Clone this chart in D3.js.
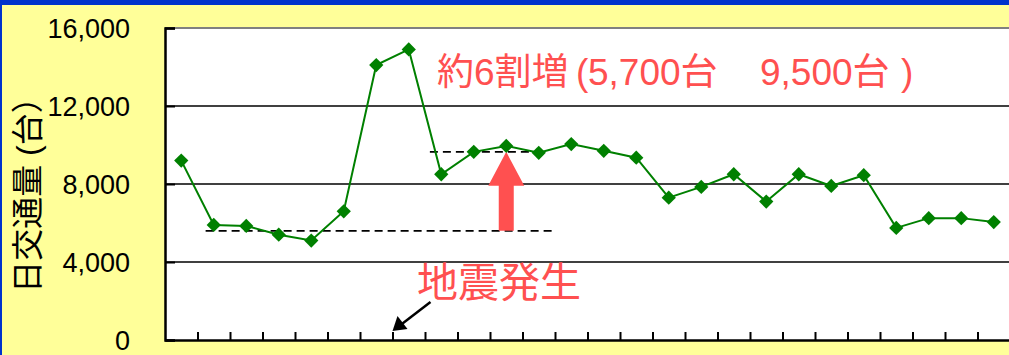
<!DOCTYPE html>
<html>
<head>
<meta charset="utf-8">
<script src="https://cdn.jsdelivr.net/npm/d3@7"></script>
<style>
  html, body { margin: 0; padding: 0; background: #ffff99; overflow: hidden; }
  svg { display: block; font-family: "Liberation Sans", Arial, "Noto Sans CJK JP", sans-serif; }
</style>
</head>
<body>
<div id="chart"></div>
<script>
// daily traffic volume (vehicles/day), one value per period
const traffic = [9200, 5900, 5850, 5400, 5100, 6600, 14100, 14900, 8500, 9650, 9950, 9600, 10050,
  9700, 9350, 7300, 7850, 8500, 7100, 8500, 7900, 8450, 5750, 6250, 6250, 6050];
const yTicks = [0, 4000, 8000, 12000, 16000];
// reference levels before / after (dashed) and the index span they cover
const refLevels = [5600, 9650];
const refSpans = [[1.25, 12.0], [8.15, 11.7]];
const quakeAt = 7;        // boundary index of the earthquake
const increaseAt = 10.5;  // where the red arrow stands
const yTitle = "日交通量 (台）";
const quakeLabel = "地震発生";
const increaseLabel = ["約6割増 ", "(", "5,700台", "9,500台", ")"];

let width = 1009, height = 355;
let margin = { top: 28, right: -1, bottom: 15, left: 165 };

let svg = d3.select("#chart").append("svg")
  .attr("width", width)
  .attr("height", height);

// blue frame at top and left
svg.append("rect").attr("x", 0).attr("y", 0).attr("width", width).attr("height", 5).attr("fill", "#0033cc");
svg.append("rect").attr("x", 0).attr("y", 0).attr("width", 2).attr("height", height).attr("fill", "#0033cc");

let xScale = d3.scaleLinear().domain([0, traffic.length]).range([margin.left, width - margin.right]);
let yScale = d3.scaleLinear().domain([0, 16000]).range([height - margin.bottom, margin.top]);

// plot area
svg.append("rect")
  .attr("x", xScale(0)).attr("y", yScale(16000))
  .attr("width", xScale(traffic.length) - xScale(0))
  .attr("height", yScale(0) - yScale(16000))
  .attr("fill", "#fff");

// top border (grey)
svg.append("line")
  .attr("x1", xScale(0)).attr("x2", xScale(traffic.length))
  .attr("y1", yScale(16000)).attr("y2", yScale(16000))
  .attr("stroke", "#808080").attr("stroke-width", 2);

// gridlines
svg.append("g").selectAll("line")
  .data(yTicks.filter(d => d > 0 && d < 16000))
  .enter().append("line")
  .attr("x1", xScale(0)).attr("x2", xScale(traffic.length))
  .attr("y1", d => yScale(d)).attr("y2", d => yScale(d))
  .attr("stroke", "#000").attr("stroke-width", 1.5);

// y axis
let yAxis = svg.append("g")
  .attr("transform", "translate(" + xScale(0) + ",0)")
  .call(d3.axisRight(yScale).tickValues(yTicks).tickSize(10).tickFormat(""));
yAxis.select(".domain").attr("stroke-width", 2.5);
yAxis.selectAll(".tick line").attr("stroke-width", 2);

svg.append("g").selectAll("text")
  .data(yTicks)
  .enter().append("text")
  .attr("x", 130)
  .attr("y", d => yScale(d))
  .attr("dy", "0.36em")
  .attr("text-anchor", "end")
  .attr("font-size", 27)
  .attr("fill", "#000")
  .text(d3.format(","));

// x axis with ticks pointing up
let xAxis = svg.append("g")
  .attr("transform", "translate(0," + yScale(0) + ")")
  .call(d3.axisBottom(xScale).tickValues(d3.range(1, traffic.length)).tickSize(-8).tickSizeOuter(0).tickFormat(""));
xAxis.select(".domain").attr("stroke-width", 2.5);
xAxis.selectAll(".tick line").attr("stroke-width", 2);

// y title
svg.append("text")
  .attr("transform", "translate(39," + 187 + ") rotate(-90)")
  .attr("text-anchor", "middle")
  .attr("font-size", 32)
  .attr("fill", "#000")
  .text(yTitle);

// dashed reference lines
svg.append("g").selectAll("line")
  .data(refLevels)
  .enter().append("line")
  .attr("x1", (d, i) => xScale(refSpans[i][0]))
  .attr("x2", (d, i) => xScale(refSpans[i][1]))
  .attr("y1", d => yScale(d)).attr("y2", d => yScale(d))
  .attr("stroke", "#000").attr("stroke-width", 1.8)
  .attr("stroke-dasharray", "8,5");

// red up arrow
let ax = xScale(increaseAt), yb = yScale(refLevels[0]), yt = yScale(refLevels[1]);
let headLen = 34, headW = 18, shaftW = 7.5;
svg.append("path")
  .attr("d", "M" + (ax - shaftW) + "," + yb +
    "L" + (ax - shaftW) + "," + (yt + headLen) +
    "L" + (ax - headW) + "," + (yt + headLen) +
    "L" + ax + "," + yt +
    "L" + (ax + headW) + "," + (yt + headLen) +
    "L" + (ax + shaftW) + "," + (yt + headLen) +
    "L" + (ax + shaftW) + "," + yb + "Z")
  .attr("fill", "#ff5050");

// series line and markers
let line = d3.line()
  .x((d, i) => xScale(i + 0.5))
  .y(d => yScale(d));

svg.append("path")
  .datum(traffic)
  .attr("d", line)
  .attr("fill", "none")
  .attr("stroke", "#008000")
  .attr("stroke-width", 2);

svg.append("g").selectAll("path")
  .data(traffic)
  .enter().append("path")
  .attr("transform", (d, i) => "translate(" + xScale(i + 0.5) + "," + yScale(d) + ")")
  .attr("d", d3.symbol().type(d3.symbolDiamond2).size(130))
  .attr("fill", "#008000");

// earthquake arrow
let qx = xScale(quakeAt), qy = yScale(0) - 9;
svg.append("line")
  .attr("x1", qx + 38).attr("y1", qy - 29)
  .attr("x2", qx + 10).attr("y2", qy - 7.5)
  .attr("stroke", "#000").attr("stroke-width", 2.5);
svg.append("path")
  .attr("d", "M" + qx + "," + qy + "L" + (qx + 5) + "," + (qy - 15) + "L" + (qx + 15) + "," + (qy - 2) + "Z")
  .attr("fill", "#000");

svg.append("text")
  .attr("x", 417).attr("y", 297)
  .attr("font-size", 41)
  .attr("fill", "#ff5050")
  .text(quakeLabel);

// increase label
let labelX = [437, 576, 588, 760, 901];
svg.append("g").selectAll("text")
  .data(increaseLabel)
  .enter().append("text")
  .attr("x", (d, i) => labelX[i])
  .attr("y", 85)
  .attr("font-size", 37)
  .attr("fill", "#ff5050")
  .text(d => d);
</script>
</body>
</html>
